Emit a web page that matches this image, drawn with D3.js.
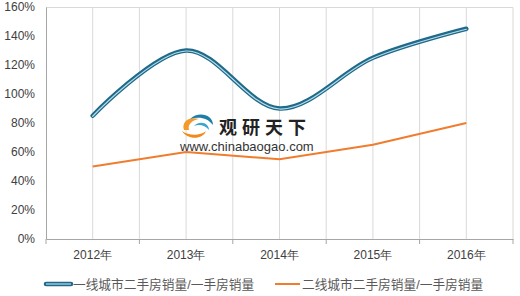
<!DOCTYPE html>
<html>
<head>
<meta charset="utf-8">
<script src="https://cdn.jsdelivr.net/npm/d3@7"></script>
<style>
  body { margin: 0; background: #fff; }
  svg { display: block; font-family: "Liberation Sans", Arial, "Noto Sans CJK SC", sans-serif; }
</style>
</head>
<body>
<div id="chart"></div>
<script>
// ===== data
var years = ["2012年", "2013年", "2014年", "2015年", "2016年"];
var tier1 = [85, 130, 90, 125, 145];
var tier2 = [50, 60, 55, 65, 80];
var seriesNames = ["一线城市二手房销量/一手房销量", "二线城市二手房销量/一手房销量"];
var yTicks = [0, 20, 40, 60, 80, 100, 120, 140, 160];

var svgWidth = 520, svgHeight = 296;
var margin = { top: 7, right: 7, bottom: 57, left: 46 };
var width = svgWidth - margin.left - margin.right;
var height = svgHeight - margin.top - margin.bottom;

var svg = d3.select("#chart").append("svg")
    .attr("width", svgWidth)
    .attr("height", svgHeight);

var chartGroup = svg.append("g")
    .attr("transform", `translate(${margin.left}, ${margin.top})`);

// ===== scales
var xBand = d3.scaleBand().domain(years).range([0, width]);
var xMid = d => xBand(d) + xBand.bandwidth() / 2;
var yScale = d3.scaleLinear().domain([0, 160]).range([height, 0]);

// ===== grid (vertical lines at band edges and centers)
var gridX = [];
years.forEach(function(y, i) {
    if (i > 0) gridX.push(xBand(y));
    gridX.push(xMid(y));
});
chartGroup.selectAll(".vgrid").data(gridX).enter().append("line")
    .attr("x1", d => d).attr("x2", d => d)
    .attr("y1", 0).attr("y2", height)
    .attr("stroke", "#d9d9d9").attr("stroke-width", 1);

// plot border top/right
chartGroup.append("path")
    .attr("d", `M0,0.5H${width}V${height}`)
    .attr("fill", "none").attr("stroke", "#d9d9d9");

// ===== axes
var leftAxis = d3.axisLeft(yScale).tickValues(yTicks).tickSize(0).tickPadding(11)
    .tickFormat(d => d + "%");
var yAxis = chartGroup.append("g").call(leftAxis);
yAxis.select(".domain").attr("stroke", "#a6a6a6");
yAxis.selectAll("text").attr("font-size", 12).attr("fill", "#404040");

var bottomAxis = d3.axisBottom(xBand).tickSize(0).tickPadding(11);
var xAxis = chartGroup.append("g")
    .attr("transform", `translate(0, ${height})`)
    .call(bottomAxis);
xAxis.select(".domain").attr("stroke", "#a6a6a6");
xAxis.selectAll("text").attr("font-size", 12).attr("fill", "#404040");
// tick marks at band boundaries
var edges = years.map(y => xBand(y)).concat([width]);
xAxis.selectAll(".edge").data(edges).enter().append("line")
    .attr("x1", d => d).attr("x2", d => d)
    .attr("y1", 0).attr("y2", 5)
    .attr("stroke", "#a6a6a6");

// ===== watermark
var wm = chartGroup.append("g").attr("transform", "translate(-46, -7)");
wm.append("path")
    .attr("d", "M184,130 C181,121 190,116 199,119 C193,120 187,124 189,130 Z")
    .attr("fill", "#f39a2b");
wm.append("path")
    .attr("d", "M182,131 C187,140 203,140 206,131 C200,136 189,136 182,131 Z")
    .attr("fill", "#f08a1d");
wm.append("path")
    .attr("d", "M190,119 C198,111 213,114 213,125 C208,118 199,116 190,119 Z")
    .attr("fill", "#1d7ea8");
wm.append("path")
    .attr("d", "M194,126 C200,120 209,123 209,130 C205,125 199,124 194,126 Z")
    .attr("fill", "#3aa6d0");
wm.append("text")
    .attr("x", 219).attr("y", 134)
    .attr("font-size", 18).attr("font-weight", "bold")
    .attr("font-family", "Noto Sans CJK SC")
    .attr("letter-spacing", 5)
    .attr("fill", "#222")
    .text("观研天下");
wm.append("text")
    .attr("x", 180).attr("y", 151)
    .attr("font-size", 13)
    .attr("fill", "#333")
    .text("www.chinabaogao.com");

// ===== lines
var smoothLine = d3.line()
    .x((d, i) => xMid(years[i]))
    .y(d => yScale(d))
    .curve(d3.curveCardinal.tension(0));
var straightLine = d3.line()
    .x((d, i) => xMid(years[i]))
    .y(d => yScale(d));

chartGroup.append("path")
    .attr("d", straightLine(tier2))
    .attr("fill", "none").attr("stroke", "#f07c2e").attr("stroke-width", 2);

chartGroup.append("path")
    .attr("d", smoothLine(tier1))
    .attr("fill", "none").attr("stroke", "#1f6a8a").attr("stroke-width", 4.5)
    .attr("stroke-linecap", "round");
chartGroup.append("path")
    .attr("d", smoothLine(tier1))
    .attr("transform", "translate(0,0.5)")
    .attr("fill", "none").attr("stroke", "#b8dcea").attr("stroke-width", 1.2)
    .attr("stroke-linecap", "round");

// ===== legend
var legend = svg.append("g").attr("transform", "translate(0, 284)");
legend.append("line").attr("x1", 46).attr("x2", 71).attr("y1", 0).attr("y2", 0)
    .attr("stroke", "#1f6a8a").attr("stroke-width", 4.5).attr("stroke-linecap", "round");
legend.append("line").attr("x1", 46).attr("x2", 71).attr("y1", 0).attr("y2", 0)
    .attr("stroke", "#b8dcea").attr("stroke-width", 1.2);
legend.append("text").attr("x", 73).attr("y", 4.5)
    .attr("font-size", 12.7).attr("fill", "#595959")
    .text(seriesNames[0]);
legend.append("line").attr("x1", 275).attr("x2", 300).attr("y1", 0).attr("y2", 0)
    .attr("stroke", "#f07c2e").attr("stroke-width", 2);
legend.append("text").attr("x", 302).attr("y", 4.5)
    .attr("font-size", 12.7).attr("fill", "#595959")
    .text(seriesNames[1]);
</script>
</body>
</html>
